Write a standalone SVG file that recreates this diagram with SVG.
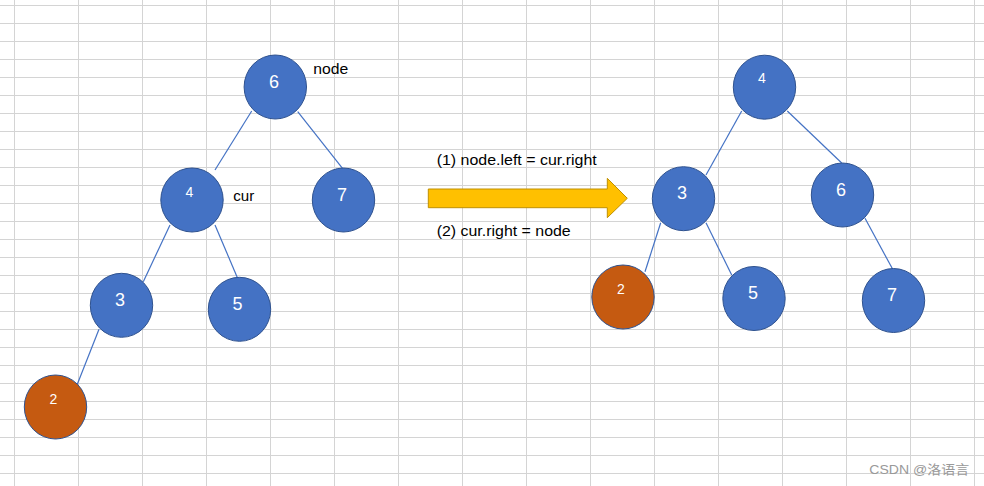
<svg xmlns="http://www.w3.org/2000/svg" width="984" height="486" viewBox="0 0 984 486">
<style>
.grid{stroke:#d4d4d4;stroke-width:1;fill:none}
.edge{stroke:#4472C4;stroke-width:1.2;fill:none}
.blue{fill:#4472C4;stroke:#2F528F;stroke-width:1}
.orange{fill:#C55A11;stroke:#2F528F;stroke-width:1}
.big{font-family:"Liberation Sans",Arial,sans-serif;font-size:18px;fill:#fff;text-anchor:middle}
.small{font-family:"Liberation Sans",Arial,sans-serif;font-size:14px;fill:#fff;text-anchor:middle}
.lbl{font-family:"Liberation Sans",Arial,sans-serif;font-size:14px;fill:#000}
.wm{font-family:"Liberation Sans","Noto Sans CJK SC",sans-serif;font-size:13px;fill:#999}
</style>
<rect width="984" height="486" fill="#fff"/>
<g id="grid">
<path class="grid" d="M14.5 0V486M78.5 0V486M142.5 0V486M206.5 0V486M270.5 0V486M334.5 0V486M398.5 0V486M462.5 0V486M526.5 0V486M590.5 0V486M654.5 0V486M718.5 0V486M782.5 0V486M846.5 0V486M910.5 0V486M974.5 0V486"/>
<path class="grid" d="M0 5.5H984M0 23.5H984M0 41.5H984M0 59.5H984M0 77.5H984M0 95.5H984M0 113.5H984M0 131.5H984M0 149.5H984M0 167.5H984M0 185.5H984M0 203.5H984M0 221.5H984M0 239.5H984M0 257.5H984M0 275.5H984M0 293.5H984M0 311.5H984M0 329.5H984M0 347.5H984M0 365.5H984M0 383.5H984M0 401.5H984M0 419.5H984M0 437.5H984M0 455.5H984M0 473.5H984"/>
</g>
<g id="connectors">
<line class="edge" x1="251.7" y1="111" x2="215" y2="170"/>
<line class="edge" x1="297.7" y1="111.7" x2="343.3" y2="169.3"/>
<line class="edge" x1="170" y1="225" x2="143.3" y2="281.7"/>
<line class="edge" x1="215" y1="225" x2="237.3" y2="277.5"/>
<line class="edge" x1="99" y1="329.3" x2="77.3" y2="384.3"/>
<line class="edge" x1="741.7" y1="111" x2="706" y2="175"/>
<line class="edge" x1="787.3" y1="111" x2="841.7" y2="163"/>
<line class="edge" x1="660.7" y1="222.7" x2="645" y2="271.7"/>
<line class="edge" x1="706" y1="222.7" x2="731.7" y2="275"/>
<line class="edge" x1="865" y1="218.3" x2="892.7" y2="269.3"/>
</g>
<g id="L6"><ellipse class="blue" cx="275.3" cy="87" rx="31.2" ry="32"/><text class="big" x="274" y="87.5">6</text></g>
<g id="L4"><ellipse class="blue" cx="192" cy="200" rx="31.2" ry="32"/><text class="small" x="189.5" y="196.7">4</text></g>
<g id="L7"><ellipse class="blue" cx="343.5" cy="200" rx="31.2" ry="32"/><text class="big" x="342" y="201">7</text></g>
<g id="L3"><ellipse class="blue" cx="121.5" cy="305.3" rx="31.2" ry="32"/><text class="big" x="120" y="306">3</text></g>
<g id="L5"><ellipse class="blue" cx="239.5" cy="309.3" rx="31.2" ry="32"/><text class="big" x="237.5" y="309.5">5</text></g>
<g id="L2"><ellipse class="orange" cx="55.5" cy="407" rx="31.2" ry="32"/><text class="small" x="53.5" y="403.7">2</text></g>
<g id="R4"><ellipse class="blue" cx="764.5" cy="87.2" rx="31.2" ry="32"/><text class="small" x="762" y="83.3">4</text></g>
<g id="R3"><ellipse class="blue" cx="683.5" cy="198.7" rx="31.2" ry="32"/><text class="big" x="682" y="198.5">3</text></g>
<g id="R6"><ellipse class="blue" cx="842.5" cy="195" rx="31.2" ry="32"/><text class="big" x="841" y="195.7">6</text></g>
<g id="R2"><ellipse class="orange" cx="623" cy="297" rx="31.2" ry="32"/><text class="small" x="621" y="293.7">2</text></g>
<g id="R5"><ellipse class="blue" cx="754" cy="298.5" rx="31.2" ry="32"/><text class="big" x="753" y="299">5</text></g>
<g id="R7"><ellipse class="blue" cx="893.5" cy="300.5" rx="31.2" ry="32"/><text class="big" x="892" y="301">7</text></g>
<g id="arrow"><polygon points="428.3,189 607.3,189 607.3,178.3 627.3,198.3 607.3,217.7 607.3,207.7 428.3,207.7" fill="#FFC000" stroke="#C09000" stroke-width="1"/></g>
<g id="labels">
<text class="lbl" x="313.3" y="74.3" textLength="35" lengthAdjust="spacingAndGlyphs">node</text>
<text class="lbl" x="233.3" y="200.7" textLength="21" lengthAdjust="spacingAndGlyphs">cur</text>
<text class="lbl" x="436.7" y="165" textLength="160" lengthAdjust="spacingAndGlyphs">(1) node.left = cur.right</text>
<text class="lbl" x="436.7" y="236" textLength="134" lengthAdjust="spacingAndGlyphs">(2) cur.right = node</text>
</g>
<text class="wm" x="869.3" y="473.5" textLength="100" lengthAdjust="spacingAndGlyphs">CSDN @洛语言</text>
</svg>
